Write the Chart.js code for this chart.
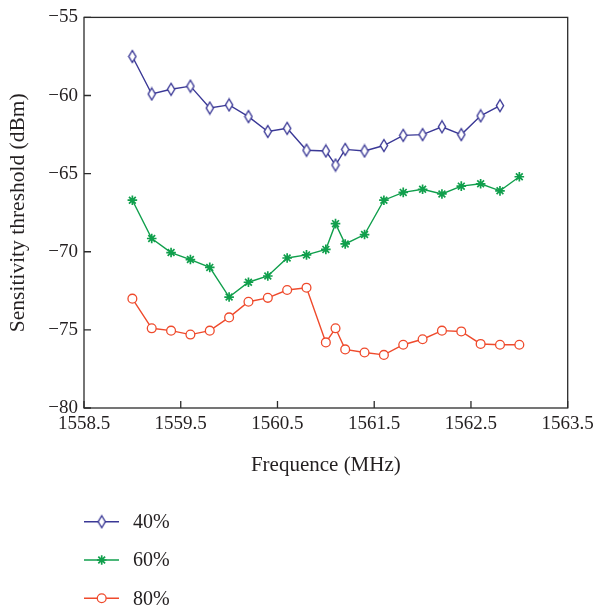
<!DOCTYPE html>
<html>
<head>
<meta charset="utf-8">
<script src="https://cdn.jsdelivr.net/npm/chart.js@4/dist/chart.umd.min.js"></script>
<style>
    html, body { margin: 0; padding: 0; background: #fff; }
    #wrap { width: 597px; height: 610px; position: relative; }
</style>
</head>
<body>
<div id="wrap"><canvas id="sensChart"></canvas></div>
<script>
const freqs = [1559.0, 1559.2, 1559.4, 1559.6, 1559.8, 1560.0, 1560.2, 1560.4, 1560.6, 1560.8,
    1561.0, 1561.1, 1561.2, 1561.4, 1561.6, 1561.8, 1562.0, 1562.2, 1562.4, 1562.6, 1562.8, 1563.0];
const sens40 = [-57.5, -59.9, -59.6, -59.4, -60.8, -60.6, -61.35, -62.3, -62.1, -63.5,
    -63.55, -64.45, -63.45, -63.55, -63.2, -62.55, -62.5, -62.0, -62.5, -61.3, -60.65];
const sens60 = [-66.7, -69.15, -70.05, -70.5, -71.0, -72.9, -71.95, -71.55, -70.4, -70.2,
    -69.85, -68.2, -69.5, -68.9, -66.7, -66.2, -66.0, -66.3, -65.8, -65.65, -66.1, -65.2];
const sens80 = [-73.0, -74.9, -75.05, -75.3, -75.05, -74.2, -73.2, -72.95, -72.45, -72.3,
    -75.8, -74.9, -76.25, -76.45, -76.6, -75.95, -75.6, -75.05, -75.1, -75.9, -75.95, -75.95];
const seriesNames = ['40%', '60%', '80%'];
const xTicks = [1558.5, 1559.5, 1560.5, 1561.5, 1562.5, 1563.5];

const SERIF = '"Liberation Serif", "DejaVu Serif", serif';
const TEXT = '#231f20';

function toPoints(values) {
    return values.map(function (v, i) { return { x: freqs[i], y: v }; });
}

// tall hollow diamond used for the 40% series
function diamondMarker(color) {
    const c = document.createElement('canvas');
    c.width = 10;
    c.height = 15;
    const g = c.getContext('2d');
    g.beginPath();
    g.moveTo(5, 1.5);
    g.lineTo(8.6, 7.5);
    g.lineTo(5, 13.5);
    g.lineTo(1.4, 7.5);
    g.closePath();
    g.fillStyle = '#fff';
    g.fill();
    g.lineWidth = 1.4;
    g.strokeStyle = color;
    g.stroke();
    return c;
}

const frameAndLegend = {
    id: 'frameAndLegend',
    afterDraw: function (chart) {
        const ctx = chart.ctx;
        const a = chart.chartArea;
        const xs = chart.scales.x;
        const ys = chart.scales.y;
        ctx.save();
        ctx.strokeStyle = '#2b2b2b';
        ctx.lineWidth = 1.3;
        ctx.strokeRect(a.left, a.top, a.right - a.left, a.bottom - a.top);

        // inward tick marks on left and bottom axes
        ctx.beginPath();
        xs.ticks.forEach(function (t) {
            const px = xs.getPixelForValue(t.value);
            ctx.moveTo(px, a.bottom);
            ctx.lineTo(px, a.bottom - 7);
        });
        ys.ticks.forEach(function (t) {
            const py = ys.getPixelForValue(t.value);
            ctx.moveTo(a.left, py);
            ctx.lineTo(a.left + 7, py);
        });
        ctx.stroke();

        // legend, stacked under the axis title
        chart.data.datasets.forEach(function (ds, i) {
            const y = 521.7 + i * 38.3;
            ctx.strokeStyle = ds.borderColor;
            ctx.lineWidth = 1.4;
            ctx.beginPath();
            ctx.moveTo(84, y);
            ctx.lineTo(119, y);
            ctx.stroke();
            ctx.fillStyle = ds.pointBackgroundColor;
            ctx.strokeStyle = ds.pointBorderColor;
            ctx.lineWidth = ds.pointBorderWidth;
            Chart.helpers.drawPoint(ctx, {
                pointStyle: ds.pointStyle,
                radius: ds.pointRadius,
                borderWidth: ds.pointBorderWidth
            }, 101.7, y);
            ctx.fillStyle = TEXT;
            ctx.font = '20px ' + SERIF;
            ctx.textBaseline = 'middle';
            ctx.textAlign = 'left';
            ctx.fillText(ds.label, 133, y + 1);
        });
        ctx.restore();
    }
};

document.addEventListener('DOMContentLoaded', function () {
    const blue = '#3a3896';
    const green = '#109f4c';
    const red = '#ef4a2c';

    const datasets = [
        {
            label: seriesNames[0],
            data: toPoints(sens40),
            borderColor: blue,
            pointBorderColor: blue,
            pointBackgroundColor: '#fff',
            pointStyle: diamondMarker(blue),
            pointRadius: 5,
            pointBorderWidth: 1.4
        },
        {
            label: seriesNames[1],
            data: toPoints(sens60),
            borderColor: green,
            pointBorderColor: green,
            pointBackgroundColor: green,
            pointStyle: 'star',
            pointRadius: 4.8,
            pointBorderWidth: 1.7
        },
        {
            label: seriesNames[2],
            data: toPoints(sens80),
            borderColor: red,
            pointBorderColor: red,
            pointBackgroundColor: '#fff',
            pointStyle: 'circle',
            pointRadius: 4.4,
            pointBorderWidth: 1.3
        }
    ];
    datasets.forEach(function (ds) {
        ds.borderWidth = 1.4;
        ds.pointHoverRadius = ds.pointRadius;
        ds.tension = 0;
    });

    new Chart(document.getElementById('sensChart'), {
        type: 'line',
        data: { datasets: datasets },
        options: {
            responsive: true,
            maintainAspectRatio: false,
            animation: false,
            layout: { padding: { top: 14, right: 29.3, left: 0, bottom: 125 } },
            plugins: {
                legend: { display: false },
                tooltip: { enabled: false }
            },
            scales: {
                x: {
                    type: 'linear',
                    min: 1558.5,
                    max: 1563.5,
                    afterBuildTicks: function (scale) {
                        scale.ticks = xTicks.map(function (v) { return { value: v }; });
                    },
                    afterFit: function (scale) {
                        scale.height = 77;
                        // let the layout padding alone fix the plot's right edge
                        scale.paddingLeft = 0;
                        scale.paddingRight = 0;
                    },
                    grid: { display: false, drawTicks: false },
                    border: { display: false },
                    ticks: {
                        padding: 5,
                        maxRotation: 0,
                        autoSkip: false,
                        color: TEXT,
                        font: { family: SERIF, size: 19 },
                        callback: function (v) { return Number(v).toFixed(1); }
                    },
                    title: {
                        display: true,
                        text: 'Frequence (MHz)',
                        color: TEXT,
                        font: { family: SERIF, size: 21 },
                        padding: { top: 0, bottom: 7 }
                    }
                },
                y: {
                    min: -80,
                    max: -55,
                    afterFit: function (scale) { scale.width = 84; },
                    grid: { display: false, drawTicks: false },
                    border: { display: false },
                    ticks: {
                        stepSize: 5,
                        padding: 6,
                        color: TEXT,
                        font: { family: SERIF, size: 19 },
                        callback: function (v) { return v < 0 ? '\u2212' + Math.abs(v) : String(v); }
                    },
                    title: {
                        display: true,
                        text: 'Sensitivity threshold (dBm)',
                        color: TEXT,
                        font: { family: SERIF, size: 21.5 },
                        padding: { top: 5, bottom: 0 }
                    }
                }
            }
        },
        plugins: [frameAndLegend]
    });
});
</script>
</body>
</html>
